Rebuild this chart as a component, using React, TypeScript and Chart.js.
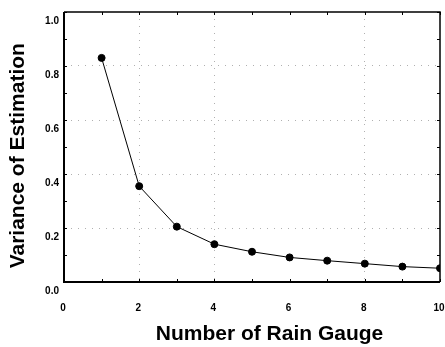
import React, { useEffect, useRef } from "react";
import { Chart, registerables } from "chart.js";

Chart.register(...registerables);

const gaugeCounts: number[] = [1, 2, 3, 4, 5, 6, 7, 8, 9, 10];
const variances: number[] = [0.83, 0.355, 0.205, 0.14, 0.112, 0.091, 0.079, 0.068, 0.057, 0.051];
const xTickValues: number[] = [0, 2, 4, 6, 8, 10];
const yTickValues: number[] = [0, 0.2, 0.4, 0.6, 0.8, 1.0];
const xTitle = "Number of Rain Gauge";
const yTitle = "Variance of Estimation";

const framePlugin = {
  id: "frame",
  afterDraw(chart: any) {
    const { ctx, chartArea, scales } = chart;
    const { left, right, top, bottom } = chartArea;
    ctx.save();
    ctx.strokeStyle = "#000";
    ctx.lineWidth = 1;
    const ys = scales.y;
    for (let v = 0; v <= 10; v++) {
      const py = Math.round(ys.getPixelForValue(v / 10)) + 0.5;
      ctx.beginPath();
      ctx.moveTo(left, py);
      ctx.lineTo(left + 3, py);
      ctx.moveTo(right, py);
      ctx.lineTo(right - 3, py);
      ctx.stroke();
    }
    const xs = scales.x;
    for (let v = 0; v <= 10; v++) {
      const px = Math.round(xs.getPixelForValue(v)) + 0.5;
      ctx.beginPath();
      ctx.moveTo(px, bottom);
      ctx.lineTo(px, bottom - 3);
      ctx.moveTo(px, top);
      ctx.lineTo(px, top + 3);
      ctx.stroke();
    }
    ctx.lineWidth = 1.5;
    ctx.beginPath();
    ctx.moveTo(left, top);
    ctx.lineTo(right, top);
    ctx.lineTo(right, bottom);
    ctx.stroke();
    ctx.lineWidth = 2;
    ctx.beginPath();
    ctx.moveTo(left, top);
    ctx.lineTo(left, bottom);
    ctx.lineTo(right, bottom);
    ctx.stroke();
    ctx.restore();
  },
};

export default function App() {
  const ref = useRef<HTMLCanvasElement | null>(null);

  useEffect(() => {
    document.body.style.margin = "0";
    if (!ref.current) return;
    const chart = new Chart(ref.current, {
      type: "line",
      data: {
        datasets: [
          {
            data: gaugeCounts.map((x, i) => ({ x, y: variances[i] })),
            borderColor: "#000",
            backgroundColor: "#000",
            borderWidth: 1,
            pointRadius: 3.5,
            pointBackgroundColor: "#000",
            pointBorderColor: "#000",
            tension: 0,
          },
        ],
      },
      options: {
        animation: false,
        responsive: false,
        maintainAspectRatio: false,
        layout: { padding: { top: 12, right: 4, left: 0, bottom: 0 } },
        plugins: { legend: { display: false }, tooltip: { enabled: false } },
        scales: {
          x: {
            type: "linear",
            min: 0,
            max: 10,
            afterBuildTicks: (s: any) => {
              s.ticks = xTickValues.map((v) => ({ value: v }));
            },
            afterFit: (s: any) => {
              s.height = 65;
              s.paddingLeft = 0;
              s.paddingRight = 0;
            },
            ticks: {
              color: "#000",
              padding: 20,
              labelOffset: -1,
              maxRotation: 0,
              font: { family: "Liberation Sans", size: 10, weight: "bold" },
              callback: (v: any) => String(v),
            },
            grid: {
              drawTicks: false,
              color: (c: any) => (c.tick && [2, 4, 8].includes(c.tick.value) ? "#b0b0b0" : "rgba(0,0,0,0)"),
              lineWidth: 1,
            },
            border: { display: false, dash: [1, 6] },
            title: {
              display: true,
              text: "      " + xTitle,
              color: "#000",
              font: { family: "Liberation Sans", size: 21, weight: "bold" },
              padding: { top: 0, bottom: 0 },
            },
          },
          y: {
            type: "linear",
            min: 0,
            max: 1,
            afterBuildTicks: (s: any) => {
              s.ticks = yTickValues.map((v) => ({ value: v }));
            },
            afterFit: (s: any) => {
              s.width = 64;
              s.paddingTop = 0;
              s.paddingBottom = 0;
            },
            ticks: {
              color: "#000",
              padding: 5,
              labelOffset: 9,
              font: { family: "Liberation Sans", size: 10, weight: "bold" },
              callback: (v: any) => Number(v).toFixed(1),
            },
            grid: {
              drawTicks: false,
              color: (c: any) => (c.tick && c.tick.value > 0 && c.tick.value < 1 ? "#b0b0b0" : "rgba(0,0,0,0)"),
              lineWidth: 1,
            },
            border: { display: false, dash: [1, 6] },
            title: {
              display: true,
              text: yTitle + "   ",
              color: "#000",
              font: { family: "Liberation Sans", size: 21, weight: "bold" },
              padding: { top: 6, bottom: 0 },
            },
          },
        },
      },
      plugins: [framePlugin],
    } as any);
    return () => chart.destroy();
  }, []);

  return (
    <div style={{ position: "absolute", left: 0, top: 0, width: 445, height: 347, background: "#fff" }}>
      <canvas ref={ref} width={445} height={347} style={{ display: "block" }} />
    </div>
  );
}
